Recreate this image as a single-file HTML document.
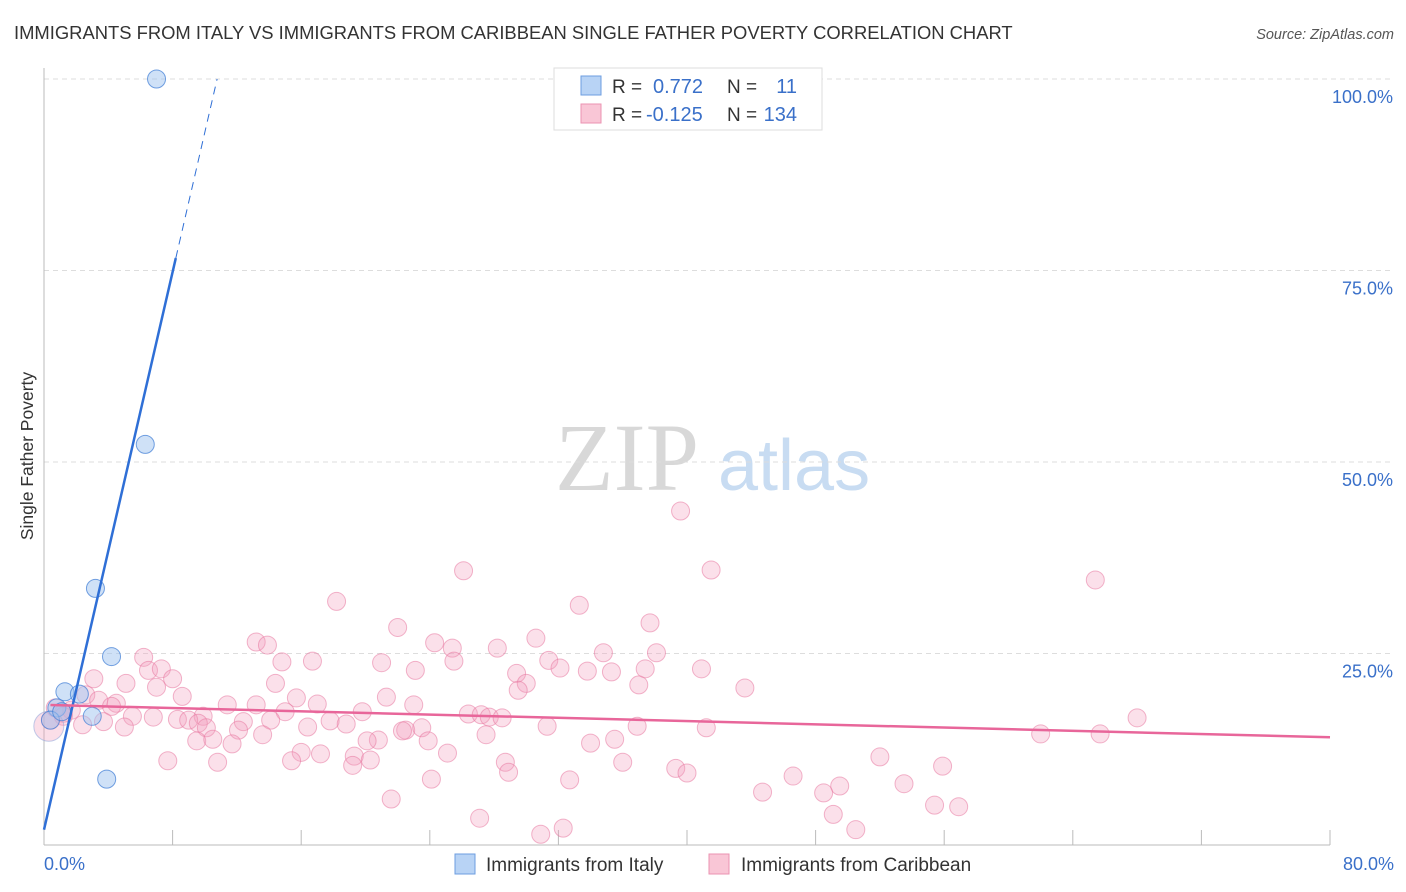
<!DOCTYPE html>
<html><head><meta charset="utf-8"><style>
body{margin:0;background:#fff;font-family:"Liberation Sans",sans-serif;}
svg{display:block}
</style></head><body>
<svg width="1406" height="892" id="c">
<text x="14" y="39" font-size="18.4" fill="#333">IMMIGRANTS FROM ITALY VS IMMIGRANTS FROM CARIBBEAN SINGLE FATHER POVERTY CORRELATION CHART</text>
<text x="1394" y="39" font-size="14.5" fill="#555" font-style="italic" text-anchor="end">Source: ZipAtlas.com</text>
<text x="33" y="456" font-size="17.5" fill="#333" text-anchor="middle" transform="rotate(-90 33 456)">Single Father Poverty</text>
<g><text x="555" y="490" font-family="Liberation Serif,serif" font-size="96" fill="#d8d8d8">ZIP</text><text x="718" y="490" font-size="72" fill="#c8dcf2">atlas</text></g>
<g id="grid"></g><g id="pts"></g><g id="lines"></g>
<g>
<rect x="554" y="68" width="268" height="62" fill="#fff" stroke="#ddd"/>
<rect x="581" y="76" width="20" height="19" fill="#b8d3f5" stroke="#6d9ee0"/>
<rect x="581" y="104" width="20" height="19" fill="#f9c6d6" stroke="#eb93b2"/>
<text font-size="19" fill="#333"><tspan x="612" y="93">R =</tspan><tspan x="612" y="121">R =</tspan><tspan x="727" y="93">N =</tspan><tspan x="727" y="121">N =</tspan></text>
<text font-size="20" fill="#3a70c9"><tspan x="653" y="93">0.772</tspan><tspan x="646" y="121">-0.125</tspan><tspan x="797" y="93" text-anchor="end">11</tspan><tspan x="797" y="121" text-anchor="end">134</tspan></text>
</g>
<g>
<rect x="455" y="854" width="20" height="20" fill="#b8d3f5" stroke="#6d9ee0"/>
<text x="486" y="871" font-size="19" fill="#333">Immigrants from Italy</text>
<rect x="709" y="854" width="20" height="20" fill="#f9c6d6" stroke="#eb93b2"/>
<text x="741" y="871" font-size="19" fill="#333">Immigrants from Caribbean</text>
</g>
</svg>
<script>
const xTicks=[8,16,24,32,40,48,56,64,72,80];
const yTicks=[25,50,75,100];
const blueX=[7.0,6.3,3.2,4.2,1.3,2.2,3.0,3.9,0.8,0.4,1.1];
const blueY=[100.0,52.3,33.5,24.6,20.0,19.7,16.8,8.6,17.9,16.3,17.4];
const pinkX=[39.6,26.1,41.5,65.4,18.2,33.3,22.0,37.7,24.3,30.6,13.2,13.9,25.4,28.2,34.8,38.1,6.2,14.8,16.7,21.0,25.5,31.4,32.1,6.5,7.3,23.1,33.8,35.3,37.4,40.9,29.4,8.0,3.1,14.4,30.0,5.1,37.0,7.0,29.5,43.6,21.3,15.7,8.6,2.6,3.4,4.5,11.4,13.2,17.0,23.0,4.2,1.1,1.7,15.0,19.8,26.4,27.2,27.7,28.5,5.5,6.8,8.3,9.9,3.7,9.0,9.6,12.4,14.1,17.8,18.8,5.0,2.4,16.4,10.1,12.1,22.5,23.5,22.3,31.3,36.9,41.2,13.6,27.5,9.5,10.5,11.7,20.8,23.9,35.5,34.0,16.0,17.2,19.3,25.1,7.7,10.8,15.4,19.2,28.7,36.0,39.3,40.0,52.0,55.9,28.9,24.1,32.7,46.6,49.5,48.5,44.7,53.5,21.6,55.4,56.9,49.1,27.1,50.5,32.3,30.9,62.0,65.7,68.0,20.1,20.3,1.2,0.4,0.7,1.2];
const pinkY=[43.6,35.8,35.9,34.6,31.8,31.3,28.4,29.0,26.4,27.0,26.5,26.1,25.7,25.7,25.1,25.1,24.5,23.9,24.0,23.8,24.0,24.1,23.1,22.8,23.0,22.8,22.7,22.6,23.0,23.0,22.4,21.7,21.7,21.1,21.1,21.1,20.9,20.6,20.2,20.5,19.3,19.2,19.4,19.6,18.9,18.5,18.3,18.3,18.4,18.3,18.1,17.4,17.6,17.4,17.4,17.1,17.0,16.7,16.6,16.8,16.7,16.4,16.8,16.1,16.3,15.9,16.1,16.3,16.2,15.8,15.4,15.7,15.4,15.3,15.0,15.0,15.3,14.9,15.5,15.5,15.3,14.4,14.4,13.6,13.8,13.2,13.7,13.6,13.8,13.3,12.1,11.9,11.6,12.0,11.0,10.8,11.0,10.4,10.8,10.8,10.0,9.4,11.5,10.3,9.5,8.6,8.5,9.0,7.7,6.8,6.9,8.0,6.0,5.2,5.0,4.0,3.5,2.0,2.2,1.4,14.5,14.5,16.6,13.6,11.1,17.2,16.3,17.9,16.8];
const blueLine=[2.0,9.1];
const pinkLine=[18.3,-0.053];
const NS='http://www.w3.org/2000/svg';
const X=v=>44+v*16.075, Y=v=>845-v*7.66;
function mk(tag,at,parent){const e=document.createElementNS(NS,tag);for(const k in at)e.setAttribute(k,at[k]);document.getElementById(parent).appendChild(e);return e;}
yTicks.forEach(t=>{
 const l=mk('line',{x1:44,x2:1394,y1:Y(t),y2:Y(t),stroke:'#ddd','stroke-dasharray':'5 4'},'grid');
 
 
 const tx=mk('text',{x:1393,y:Y(t)+24,'font-size':18,fill:'#3a70c9','text-anchor':'end'},'grid');tx.textContent=t.toFixed(1)+'%';
 
 
});
const ax=mk('line',{x1:44,x2:44,y1:68,y2:845,stroke:'#bbb'},'grid');


const bx=mk('line',{x1:44,x2:1330,y1:845,y2:845,stroke:'#bbb'},'grid');


xTicks.forEach(t=>{const l=mk('line',{x1:X(t),x2:X(t),y1:830,y2:845,stroke:'#bbb'},'grid');
 
 });
[[0,'0.0%','start',44],[80,'80.0%','end',1394]].forEach(a=>{const t=mk('text',{x:a[3],y:870,'font-size':18,fill:'#3a70c9','text-anchor':a[2]},'grid');t.textContent=a[1];
 
 });
pinkX.forEach((x,i)=>{const c=mk('circle',{cx:X(x),cy:Y(pinkY[i]),r:9,fill:'rgba(244,160,190,0.32)',stroke:'rgba(232,120,160,0.55)'},'pts');
 
 });
const bp=mk('circle',{cx:X(0.3),cy:Y(15.5),r:15,fill:'rgba(244,160,190,0.35)',stroke:'rgba(150,170,220,0.6)'},'pts');


blueX.forEach((x,i)=>{const c=mk('circle',{cx:X(x),cy:Y(blueY[i]),r:9,fill:'rgba(160,195,240,0.5)',stroke:'rgba(70,130,215,0.75)'},'pts');
 
 });
const xs=8.2, xe=(100-blueLine[0])/blueLine[1];
const b1=mk('line',{x1:X(0),y1:Y(blueLine[0]),x2:X(xs),y2:Y(blueLine[0]+blueLine[1]*xs),stroke:'#2f6fd6','stroke-width':2.5},'lines');


const b2=mk('line',{x1:X(xs),y1:Y(blueLine[0]+blueLine[1]*xs),x2:X(xe),y2:Y(100),stroke:'#2f6fd6','stroke-width':1,'stroke-dasharray':'8 6'},'lines');


const p1=mk('line',{x1:X(0.4),y1:Y(pinkLine[0]+pinkLine[1]*0.4),x2:X(80),y2:Y(pinkLine[0]+pinkLine[1]*80),stroke:'#e8669a','stroke-width':2.5},'lines');


</script>
</body></html>
